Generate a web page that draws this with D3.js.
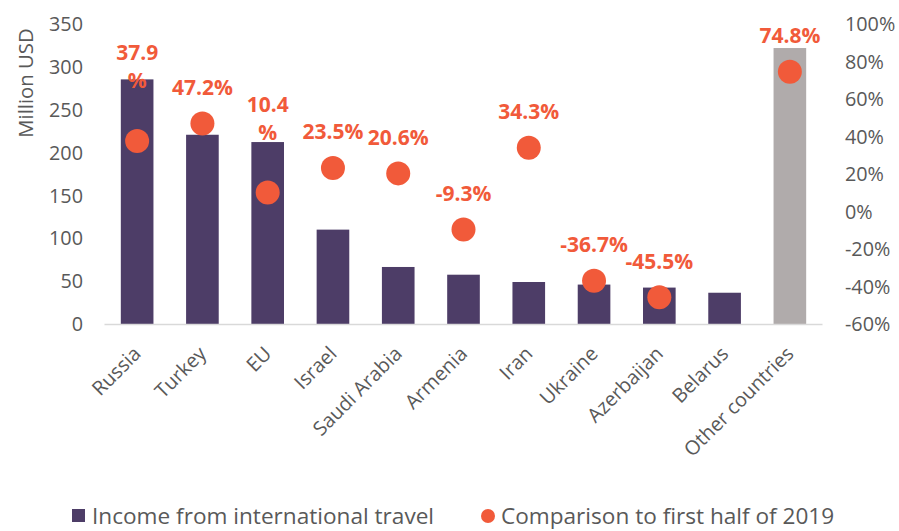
<!DOCTYPE html>
<html>
<head>
<meta charset="utf-8">
<script src="https://cdn.jsdelivr.net/npm/d3@7"></script>
<style>
  html, body { margin: 0; padding: 0; background: #fff; }
  svg { display: block; font-family: "Open Sans", "Noto Sans", sans-serif; }
</style>
</head>
<body>
<svg id="chart" width="899" height="531"></svg>
<script>
const categories = ["Russia", "Turkey", "EU", "Israel", "Saudi Arabia", "Armenia", "Iran", "Ukraine", "Azerbaijan", "Belarus", "Other countries"];
const income = [285.5, 221, 212.5, 110.5, 67, 58, 49.5, 46.5, 43, 37, 322];
const comparison = [37.9, 47.2, 10.4, 23.5, 20.6, -9.3, 34.3, -36.7, -45.5, null, 74.8];
const wrappedLabels = ["Russia", "EU"];
const leftTicks = [0, 50, 100, 150, 200, 250, 300, 350];
const rightTicks = [-60, -40, -20, 0, 20, 40, 60, 80, 100];
const seriesNames = ["Income from international travel", "Comparison to first half of 2019"];

const svg = d3.select("#chart");
const purple = "#4d3d67", grey = "#b0abab", orange = "#f15a3a", textGrey = "#595959";

const x = d3.scaleBand().domain(categories).range([104.5, 822.5]).paddingInner(0.5).paddingOuter(0.25);
const yL = d3.scaleLinear().domain([0, 350]).range([324.5, 24]);
const yR = d3.scaleLinear().domain([-60, 100]).range([324.5, 24.5]);

// bars
svg.append("g").selectAll("rect").data(categories).join("rect")
  .attr("x", d => x(d))
  .attr("width", x.bandwidth())
  .attr("y", (d, i) => yL(income[i]))
  .attr("height", (d, i) => yL(0) - yL(income[i]))
  .attr("fill", d => d === "Other countries" ? grey : purple);

// baseline
svg.append("line").attr("x1", 104.5).attr("x2", 822.5)
  .attr("y1", yL(0)).attr("y2", yL(0))
  .attr("stroke", "#d9d9d9").attr("stroke-width", 1.5);

// left axis
const axL = svg.append("g").attr("transform", "translate(83,0)")
  .call(d3.axisLeft(yL).tickValues(leftTicks).tickSize(0).tickPadding(0));
axL.select(".domain").remove();
axL.selectAll("text").attr("fill", textGrey).style("font-size", "19.8px")
  .style("font-family", "'Open Sans', sans-serif");

// right axis
const axR = svg.append("g").attr("transform", "translate(845,0)")
  .call(d3.axisRight(yR).tickValues(rightTicks).tickFormat(d => d + "%").tickSize(0).tickPadding(0));
axR.select(".domain").remove();
axR.selectAll("text").attr("fill", textGrey).style("font-size", "19.8px")
  .style("font-family", "'Open Sans', sans-serif");

// y title
svg.append("text").attr("transform", "translate(33,83) rotate(-90)")
  .attr("text-anchor", "middle").attr("fill", textGrey)
  .style("font-size", "20.3px").text("Million USD");

// x labels
svg.append("g").selectAll("text").data(categories).join("text")
  .attr("transform", d => `translate(${x(d) + x.bandwidth() / 2 + 5},355) rotate(-45)`)
  .attr("text-anchor", "end").attr("fill", textGrey)
  .style("font-size", "19.8px").text(d => d);

// dots
const pts = categories.map((c, i) => ({ c, v: comparison[i] })).filter(p => p.v !== null);
svg.append("g").selectAll("circle").data(pts).join("circle")
  .attr("cx", p => x(p.c) + x.bandwidth() / 2)
  .attr("cy", p => yR(p.v))
  .attr("r", 12).attr("fill", orange);

// data labels
const lbl = svg.append("g").attr("fill", orange).style("font-size", "21px").style("font-weight", "700")
  .attr("text-anchor", "middle");
pts.forEach(p => {
  const cx = x(p.c) + x.bandwidth() / 2, cy = yR(p.v);
  const s = p.v.toFixed(1) + "%";
  if (wrappedLabels.includes(p.c)) {
    lbl.append("text").attr("x", cx).attr("y", cy - 81).text(p.v.toFixed(1));
    lbl.append("text").attr("x", cx).attr("y", cy - 53).text("%");
  } else {
    lbl.append("text").attr("x", cx).attr("y", cy - 28.5).text(s);
  }
});

// legend
const lg = svg.append("g");
lg.append("rect").attr("x", 72).attr("y", 509).attr("width", 13).attr("height", 13).attr("fill", purple);
lg.append("text").attr("x", 92).attr("y", 524).attr("fill", textGrey).style("font-size", "22.6px").text(seriesNames[0]);
lg.append("circle").attr("cx", 488).attr("cy", 516).attr("r", 7).attr("fill", orange);
lg.append("text").attr("x", 501).attr("y", 524).attr("fill", textGrey).style("font-size", "22.6px").text(seriesNames[1]);
</script>
</body>
</html>
